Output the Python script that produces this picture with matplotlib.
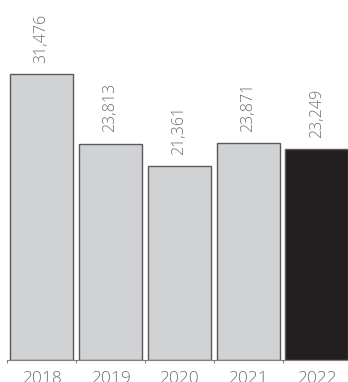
import matplotlib
matplotlib.use("Agg")
from matplotlib import pyplot as plt
import numpy as np

years = ["2018", "2019", "2020", "2021", "2022"]
values = [31476, 23813, 21361, 23871, 23249]
colors = ["#d1d2d4", "#d1d2d4", "#d1d2d4", "#d1d2d4", "#231f20"]

plt.rcParams['font.family'] = ['Open Sans', 'DejaVu Sans']

W, H = 348, 382
fig = plt.figure(figsize=(W / 100, H / 100), dpi=100)

# axes placed in pixels: baseline at y=359.5, first edge tick at x=7.3
left_px, base_px, cat_px = 7.3, 359.5, 68.8
ax = fig.add_axes([left_px / W, (H - base_px) / H, 5 * cat_px / W, base_px / H])
ymax = base_px * values[0] / 285.5

x = np.arange(len(years))
ax.bar(x, values, width=0.916, color=colors, edgecolor="#58595b", linewidth=1.0)

for xi, v in zip(x, values):
    ax.annotate(f"{v:,}", (xi, v), xytext=(0, 8), textcoords="offset points",
                rotation=90, ha="center", va="bottom", fontsize=11.5,
                color="#6d6e71", fontweight="light")

ax.set_xlim(-0.5, 4.5)
ax.set_ylim(0, ymax)
for spine in ['top', 'left', 'right']:
    ax.spines[spine].set_visible(False)
ax.spines['bottom'].set_color("#808080")
ax.spines['bottom'].set_linewidth(0.8)
ax.tick_params(axis='y', left=False, labelleft=False)

ax.set_xticks(x)
ax.set_xticklabels(years, fontsize=12.5, color="#6d6e71", fontweight="light")
ax.tick_params(axis='x', which='major', length=0, pad=8)
ax.set_xticks(np.arange(-0.5, 4.5, 1.0), minor=True)
ax.tick_params(axis='x', which='minor', length=2.3, width=0.8, color="#808080", direction='out')

fig.savefig("out.png", dpi=100)
